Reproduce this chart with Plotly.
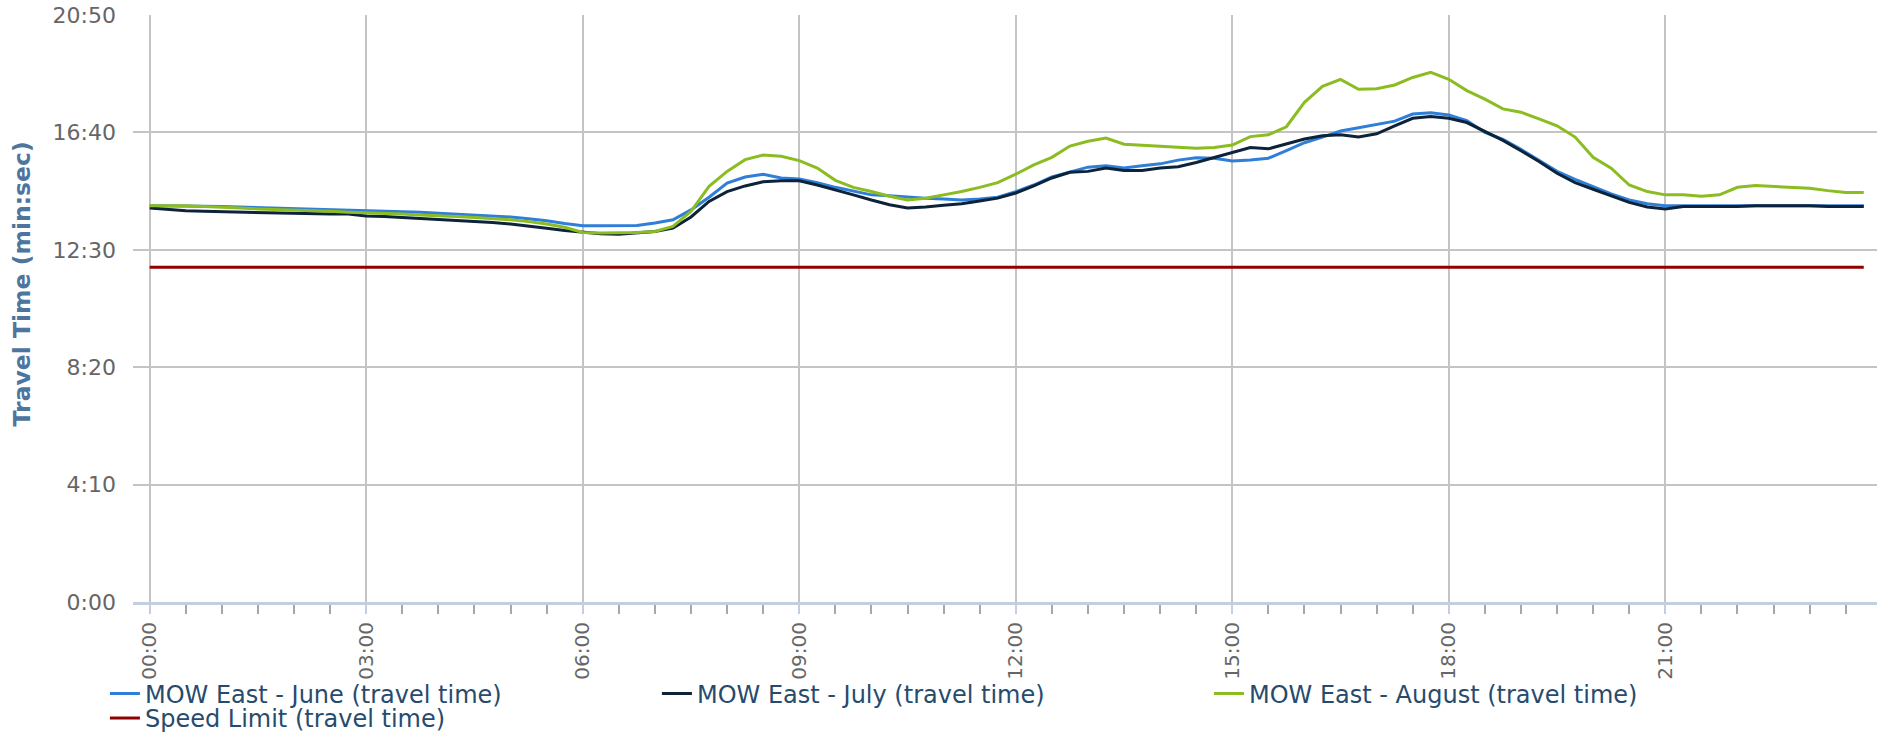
import plotly.graph_objects as go

# time of day in minutes (15-minute bins)
minutes = list(range(0, 1440, 15))

# travel time in seconds
june = [844, 844, 843, 843, 842, 841, 840, 838, 837, 836, 835, 834,
        834, 833, 831, 830, 828, 826, 825, 822, 820, 816, 812, 806,
        801, 801, 801, 802, 807, 814, 835, 862, 892, 905, 911, 903,
        901, 893, 883, 875, 867, 865, 862, 860, 858, 856, 858, 862,
        874, 888, 905, 915, 926, 929, 924, 929, 933, 941, 946, 945,
        939, 941, 945, 961, 978, 990, 1003, 1010, 1017, 1024, 1039, 1042,
        1037, 1025, 1000, 985, 964, 941, 917, 900, 885, 869, 856, 848,
        844, 844, 844, 844, 844, 845, 845, 845, 845, 845, 845, 844]

july = [839, 836, 833, 832, 831, 830, 829, 829, 828, 827, 826, 826,
        822, 821, 819, 817, 815, 813, 811, 808, 805, 801, 796, 791,
        788, 784, 783, 786, 789, 796, 820, 853, 874, 886, 895, 897,
        897, 888, 878, 867, 856, 846, 839, 841, 845, 848, 854, 860,
        871, 886, 903, 915, 917, 924, 919, 919, 924, 927, 936, 947,
        957, 968, 965, 976, 986, 993, 995, 990, 997, 1014, 1030, 1034,
        1030, 1021, 1002, 983, 961, 938, 913, 893, 879, 865, 851, 841,
        837, 842, 842, 842, 842, 844, 844, 844, 844, 842, 842, 842]

august = [844, 844, 844, 842, 841, 839, 837, 836, 835, 833, 832, 830,
          829, 827, 826, 824, 823, 821, 819, 817, 814, 810, 805, 798,
          787, 786, 786, 787, 789, 800, 832, 885, 917, 942, 952, 949,
          940, 924, 898, 883, 874, 864, 856, 860, 867, 874, 883, 893,
          911, 931, 947, 971, 981, 988, 975, 973, 971, 968, 966, 968,
          973, 991, 995, 1012, 1064, 1098, 1113, 1092, 1093, 1101, 1117, 1128,
          1113, 1089, 1071, 1050, 1043, 1029, 1014, 990, 947, 924, 888, 874,
          867, 867, 864, 867, 883, 887, 885, 883, 881, 876, 872, 872]

speed_limit_value = 713
speed_limit = [speed_limit_value] * len(minutes)

x_tickvals = [0, 180, 360, 540, 720, 900, 1080, 1260]
x_ticktext = ["00:00", "03:00", "06:00", "09:00", "12:00", "15:00", "18:00", "21:00"]
y_tickvals = [0, 250, 500, 750, 1000, 1250]
y_ticktext = ["0:00", "4:10", "8:20", "12:30", "16:40", "20:50"]

series = [
    ("MOW East - June (travel time)", june, "#2f7ed8", "legend"),
    ("MOW East - July (travel time)", july, "#0d233a", "legend"),
    ("MOW East - August (travel time)", august, "#8bbc21", "legend"),
    ("Speed Limit (travel time)", speed_limit, "#910000", "legend2"),
]

fig = go.Figure()
for name, vals, color, leg in series:
    fig.add_trace(go.Scatter(
        x=minutes, y=vals, name=name, mode="lines",
        line=dict(color=color, width=3), legend=leg,
    ))

FONT = "DejaVu Sans"
LEGEND_FONT = dict(family=FONT, size=24, color="#274b6d")
fig.update_layout(
    width=1877, height=732,
    margin=dict(l=133, r=0, t=15, b=129.5, autoexpand=False),
    paper_bgcolor="white", plot_bgcolor="white",
    font=dict(family=FONT),
    showlegend=True,
    legend=dict(
        orientation="h",
        x=-0.0161, xanchor="left",
        y=-0.1183, yanchor="top",
        entrywidth=507, entrywidthmode="pixels",
        font=LEGEND_FONT,
        bgcolor="rgba(0,0,0,0)",
    ),
    legend2=dict(
        orientation="h",
        x=-0.0161, xanchor="left",
        y=-0.1600, yanchor="top",
        font=LEGEND_FONT,
        bgcolor="rgba(0,0,0,0)",
    ),
    xaxis=dict(
        range=[-13.9, 1436],
        automargin=False,
        tickmode="array", tickvals=x_tickvals, ticktext=x_ticktext,
        tickangle=-90,
        tickfont=dict(family=FONT, size=20, color="#666666"),
        ticks="outside", ticklen=9, tickwidth=2, tickcolor="#C0D0E0",
        minor=dict(dtick=30, tick0=0, ticks="outside", ticklen=9, tickwidth=2,
                   tickcolor="#A8A8A8", showgrid=False),
        showgrid=True, gridcolor="#C4C4C4", gridwidth=2,
        showline=True, linecolor="#C0D0E0", linewidth=3,
        zeroline=False,
    ),
    yaxis=dict(
        range=[0, 1250],
        automargin=False,
        tickmode="array", tickvals=y_tickvals, ticktext=y_ticktext,
        tickfont=dict(family=FONT, size=22, color="#666666"),
        ticks="", ticklabelstandoff=16,
        showgrid=True, gridcolor="#C4C4C4", gridwidth=2,
        showline=False, zeroline=False,
    ),
    annotations=[dict(
        text="<b>Travel Time (min:sec)</b>",
        xref="paper", yref="paper",
        x=-0.0639, y=0.542, xanchor="center", yanchor="middle",
        textangle=-90, showarrow=False,
        font=dict(family=FONT, size=23.5, color="#4d759e"),
    )],
)

# remove the default 8px page margin so the figure fills the window exactly
fig.write_html("out.html", config={"displayModeBar": False},
               post_script="document.body.style.margin='0px';")
